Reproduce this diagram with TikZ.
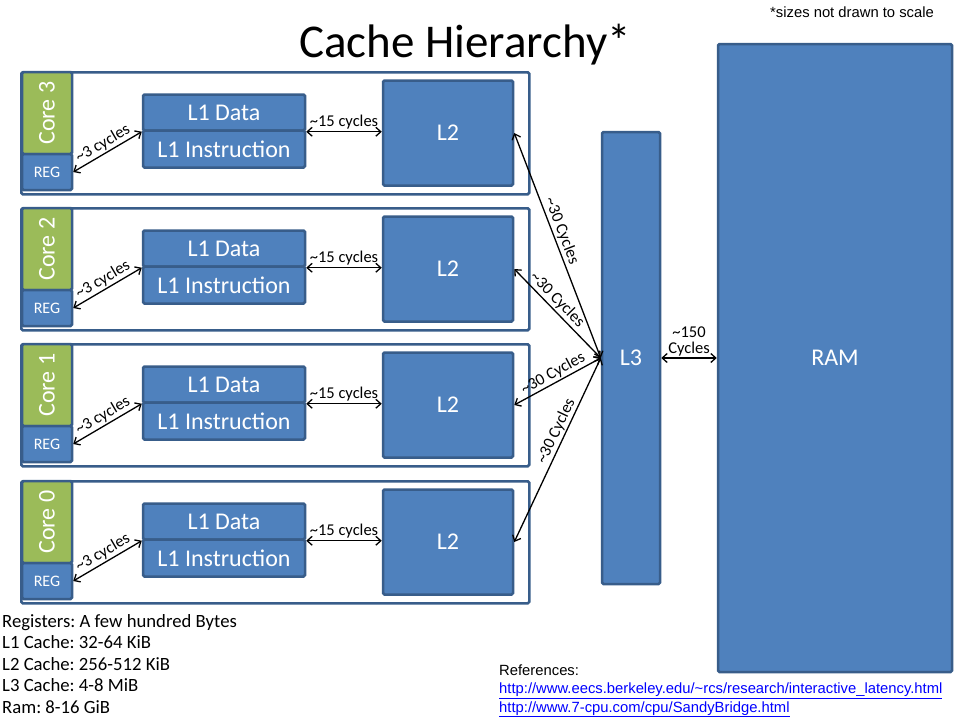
\documentclass[tikz,border=0pt]{standalone}
\usepackage{fontspec}
\setmainfont{Carlito}
\newfontfamily\notefont{Liberation Sans}
\usetikzlibrary{positioning,arrows.meta}
\definecolor{boxblue}{HTML}{4F81BD}
\definecolor{edgeblue}{HTML}{385D8A}
\definecolor{coregreen}{HTML}{9BBB59}
\definecolor{linkblue}{HTML}{0000FF}
\frenchspacing

\begin{document}
\begin{tikzpicture}[x=1pt,y=-1pt,
  unit/.style={draw=edgeblue,fill=boxblue,line width=2.5pt,rounded corners=1.5pt,inner sep=0pt,text=white,font=\fontsize{24}{28}\selectfont},
  frame/.style={draw=edgeblue,fill=white,line width=2.5pt,rounded corners=1.5pt,minimum width=508,minimum height=122,anchor=north west},
  conn/.style={{Straight Barb[length=5pt,width=9pt]}-{Straight Barb[length=5pt,width=9pt]},line width=1.3pt},
  lat/.style={font=\fontsize{16.5}{18}\selectfont,inner sep=1.5pt},
  note/.style={anchor=base west,inner sep=0pt,font=\notefont\fontsize{14.8}{17}\selectfont}]
\useasboundingbox (0,0) rectangle (960,720);
% Title and scale remark
\node[anchor=base,inner sep=0pt,font=\fontsize{47}{52}\selectfont] (title) at (465,57) {Cache Hierarchy*};
\node[note] (scale) at (770,17) {*sizes not drawn to scale};
% Shared levels
\node[unit,minimum width=58,minimum height=452] (l3) at (631,358) {L3};
\node[unit,minimum width=234,minimum height=628] (ram) at (835,358) {RAM};
\draw[conn] (l3.east) -- node[lat,above,align=center]{\textasciitilde150\\[-2pt]Cycles} (ram.west);
% One frame per core: registers, split L1 and private L2
\foreach \i/\y/\p in {3/71/.45,2/207/.42,1/343/.5,0/480/.58}{
  \node[frame] (frame\i) at (20,\y) {};
  \node[unit,fill=coregreen,rotate=90,minimum width=82,minimum height=50] (core\i) at (47,\y+42) {Core \i};
  \node[unit,minimum width=50,minimum height=36,font=\fontsize{16}{18}\selectfont] (reg\i) at (47,\y+101) {REG};
  \node[unit,minimum width=162,minimum height=36] (l1d\i) at (224,\y+41.5) {L1 Data};
  \node[unit,minimum width=162,minimum height=37] (l1i\i) at (224,\y+78) {L1 Instruction};
  \node[unit,minimum width=130,minimum height=105] (l2\i) at (448,\y+62) {L2};
  \draw[conn] (reg\i.east) -- node[lat,sloped,above]{\textasciitilde3 cycles} (l1d\i.south west);
  \draw[conn] (l1d\i.south east) -- node[lat,above]{\textasciitilde15 cycles} (l1d\i.south east -| l2\i.west);
  \draw[conn] (l2\i.east) -- node[lat,sloped,above,pos=\p]{\textasciitilde30 Cycles} (l3.west);
}
% Sizes of each level
\foreach \t [count=\k] in {Registers: A few hundred Bytes,L1 Cache: 32-64 KiB,L2 Cache: 256-512 KiB,L3 Cache: 4-8 MiB,Ram: 8-16 GiB}{
  \node[anchor=base west,inner sep=0pt,font=\fontsize{18.7}{21}\selectfont] (size\k) at (2,{627+21.6*(\k-1)}) {\t};
}
% Sources
\node[note] (refs) at (499,675) {References:};
\node[note,text=linkblue] (ref1) at (499,693.5) {\underline{http://www.eecs.berkeley.edu/\textasciitilde rcs/research/interactive\_latency.html}};
\node[note,text=linkblue] (ref2) at (499,712) {\underline{http://www.7-cpu.com/cpu/SandyBridge.html}};
\end{tikzpicture}
\end{document}
